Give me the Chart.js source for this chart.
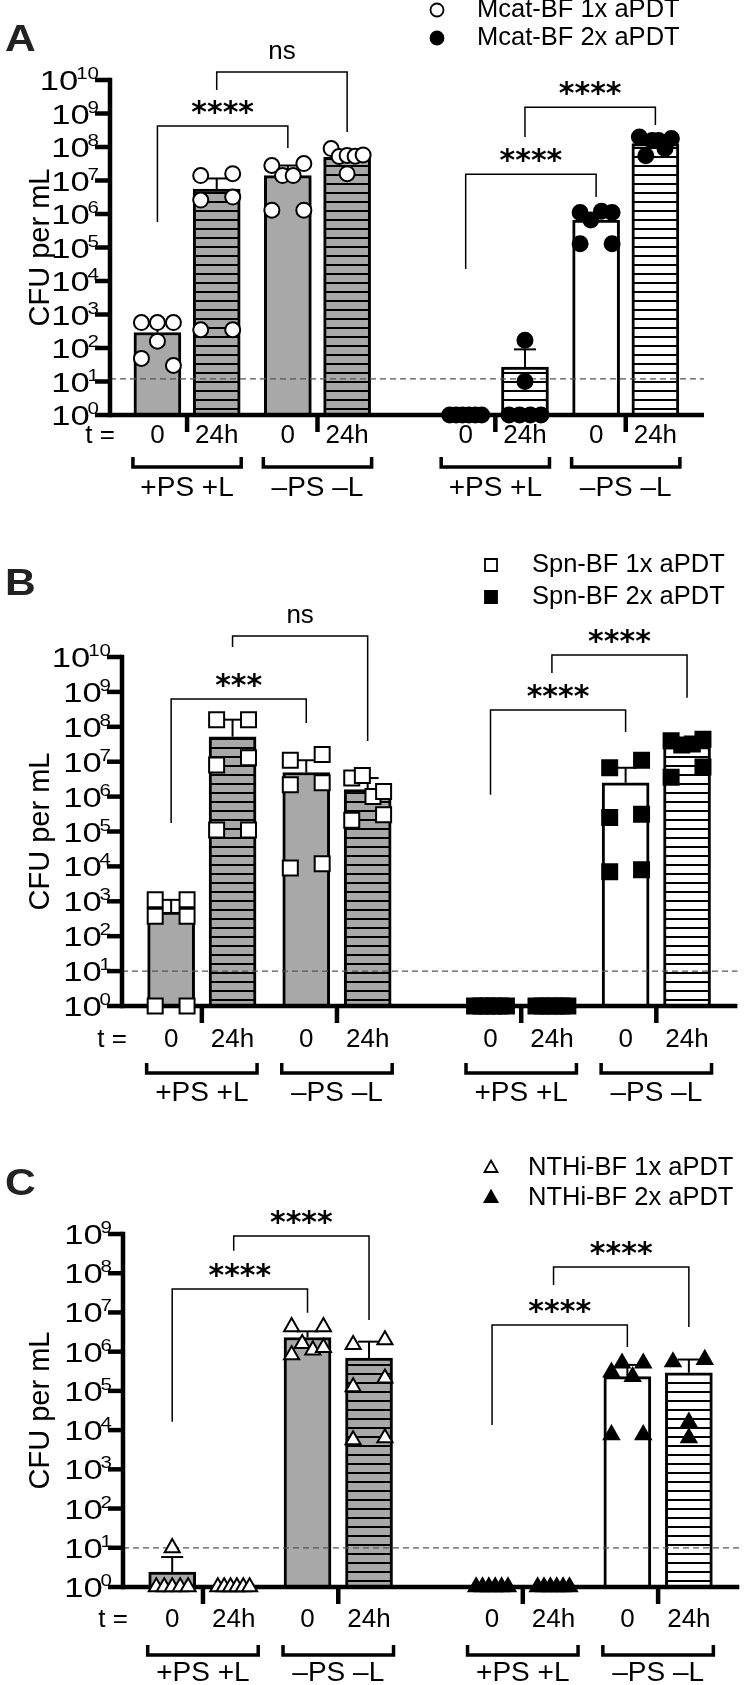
<!DOCTYPE html>
<html>
<head>
<meta charset="utf-8">
<script src="https://cdn.jsdelivr.net/npm/chart.js@4.4.0/dist/chart.umd.min.js"></script>
<style>
  body { margin: 0; background: #fff; width: 750px; height: 1685px; position: relative; overflow: hidden; }
  canvas { position: absolute; left: 0; }
</style>
</head>
<body>
<canvas id="chartA" width="750" height="520" style="top:0px"></canvas>
<canvas id="chartB" width="750" height="600" style="top:520px"></canvas>
<canvas id="chartC" width="750" height="565" style="top:1120px"></canvas>
<script>
// ---- data ----
var timeLabels = ['0', '24h', '0', '24h', '0', '24h', '0', '24h'];
var groupLabels = ['+PS +L', '\u2013PS \u2013L', '+PS +L', '\u2013PS \u2013L'];

// panel A : M. catarrhalis biofilm
var legendA = ['Mcat-BF 1x aPDT', 'Mcat-BF 2x aPDT'];
var meansA = [290, 5.5e6, 1.4e7, 4.9e7, 1, 27, 6.6e5, 1.26e8];
var errTopA = [575, 1.15e7, 2.8e7, 7.3e7, null, 91, 9.5e5, 1.6e8];
var pointsA = [
  [575, 575, 575, 160, 49, 30],
  [350, 350, 2.6e6, 3.2e6, 1.4e7, 1.6e7],
  [2.8e7, 1.4e7, 1.4e7, 3.2e7, 1.3e6, 1.3e6],
  [9e7, 5.2e7, 5.6e7, 5.3e7, 5.8e7, 1.6e7],
  [1, 1, 1, 1, 1, 1],
  [170, 10, 1, 1, 1, 1],
  [1.1e6, 6.6e5, 1.2e6, 1.1e6, 1.3e5, 1.3e5],
  [2e8, 5.5e7, 1.55e8, 1.55e8, 9e7, 1.8e8]
];
// [from bar, to bar, bracket top, left leg end, right leg end (log10 CFU), label]
var bracketsA = [
  [0, 2, 8.63, 5.76, 7.97, '****'],
  [1, 3, 10.24, 9.70, 8.45, 'ns'],
  [4, 6, 7.19, 4.36, 6.51, '****'],
  [5, 7, 9.19, 8.30, 8.66, '****']
];
var limitA = 12;

// panel B : S. pneumoniae biofilm
var legendB = ['Spn-BF 1x aPDT', 'Spn-BF 2x aPDT'];
var meansB = [490, 5.2e7, 4.9e6, 1.6e6, 1, 1, 2.5e6, 2.7e7];
var errTopB = [1.1e3, 1.6e8, 1.1e7, 3.4e6, null, null, 6.7e6, 3.8e7];
var pointsB = [
  [1.1e3, 1.1e3, 370, 370, 1, 1],
  [1.6e8, 1.6e8, 8e6, 1.3e7, 1.1e5, 1.1e5],
  [1.1e7, 1.6e7, 2.2e6, 2.5e6, 9e3, 1.2e4],
  [3.4e6, 4e6, 1e6, 1.4e6, 2.1e5, 3e5],
  [1, 1, 1, 1, 1, 1],
  [1, 1, 1, 1, 1, 1],
  [6.7e6, 1.1e7, 2.5e5, 3.1e5, 7e3, 8e3],
  [4e7, 3e7, 3.2e7, 4.4e7, 3.6e6, 7e6]
];
var bracketsB = [
  [0, 2, 8.80, 5.24, 8.11, '***'],
  [1, 3, 10.60, 10.29, 7.59, 'ns'],
  [4, 6, 8.48, 6.05, 7.85, '****'],
  [5, 7, 10.06, 9.54, 8.83, '****']
];
var limitB = 10;

// panel C : NTHi biofilm
var legendC = ['NTHi-BF 1x aPDT', 'NTHi-BF 2x aPDT'];
var meansC = [2.4, 1, 2.3e6, 6.9e5, 1, 1, 2.3e5, 2.9e5];
var errTopC = [5.8, null, 3.3e6, 1.8e6, null, null, 4.6e5, 6.3e5];
var pointsC = [
  [10, 1, 1, 1, 1, 1],
  [1, 1, 1, 1, 1, 1],
  [4.3e6, 4.3e6, 8.3e5, 1.6e6, 1.1e6, 1.26e6],
  [1.5e6, 2e6, 1.26e5, 2.1e5, 5.6e3, 6.3e3],
  [1, 1, 1, 1, 1, 1],
  [1, 1, 1, 1, 1, 1],
  [3e5, 5.1e5, 2.3e5, 5.1e5, 7.6e3, 7.6e3],
  [5.5e5, 6.3e5, 1.6e4, 6.3e3]
];
var bracketsC = [
  [0, 2, 7.60, 4.21, 6.99, '****'],
  [1, 3, 8.95, 8.57, 6.81, '****'],
  [4, 6, 6.68, 4.13, 6.12, '****'],
  [5, 7, 8.16, 7.70, 6.63, '****']
];
var limitC = 10;

// ---- layout ----
var slots = [0, 1, 2.2, 3.2, 5.2, 6.2, 7.4, 8.4];
var X_MIN = -0.8, X_MAX = 9.22;
var BAR_W = 47, MARK = 15;
var FONT = "'Liberation Sans', Arial, Helvetica, sans-serif";
var GRAY = '#a8a8a8';

var panels = [
  { id: 'chartA', letter: 'A', legend: legendA, means: meansA, errTop: errTopA, points: pointsA,
    brackets: bracketsA, limit: limitA, maxExp: 10, marker: 'circle', markR: 7.5, H: 520,
    area: { left: 110, right: 704, top: 80, bottom: 415 },
    legX: 437, legTextX: 477, legY: [10, 38], letterY: 41, labelDy: 21, brDy: 52, groupDy: 73 },
  { id: 'chartB', letter: 'B', legend: legendB, means: meansB, errTop: errTopB, points: pointsB,
    brackets: bracketsB, limit: limitB, maxExp: 10, marker: 'rect', markR: 10.6, H: 600,
    area: { left: 122, right: 740, top: 137, bottom: 486 },
    legX: 491, legTextX: 532, legY: [45, 77], letterY: 65, labelDy: 34, brDy: 67, groupDy: 87 },
  { id: 'chartC', letter: 'C', legend: legendC, means: meansC, errTop: errTopC, points: pointsC,
    brackets: bracketsC, limit: limitC, maxExp: 9, marker: 'triangle', markR: 8.7, H: 565,
    area: { left: 123, right: 743, top: 114, bottom: 467 },
    legX: 491, legTextX: 528, legY: [48, 78], letterY: 65, labelDy: 33, brDy: 68, groupDy: 86 }
];

function hatch(fill, offset) {
  var c = document.createElement('canvas');
  c.width = 8; c.height = 9;
  var g = c.getContext('2d');
  g.fillStyle = fill; g.fillRect(0, 0, 8, 9);
  g.fillStyle = '#000'; g.fillRect(0, offset, 8, 2);
  return c.getContext('2d').createPattern(c, 'repeat');
}

function line(ctx, x1, y1, x2, y2) {
  ctx.beginPath(); ctx.moveTo(x1, y1); ctx.lineTo(x2, y2); ctx.stroke();
}

// text drawn a little wider than the font, as the figure's tick labels are
function wideText(ctx, txt, x, y, sx) {
  ctx.save();
  ctx.translate(x, y); ctx.scale(sx, 1);
  ctx.fillText(txt, 0, 0);
  ctx.restore();
}

// spread points of similar height side by side across the bar (scatter-dot style)
function swarm(values, yPx) {
  var idx = values.map(function (v, i) { return i; });
  idx.sort(function (a, b) { return yPx(values[a]) - yPx(values[b]); });
  var clusters = [], cur = [];
  idx.forEach(function (i, k) {
    if (k > 0 && yPx(values[i]) - yPx(values[idx[k - 1]]) > MARK) { clusters.push(cur); cur = []; }
    cur.push(i);
  });
  clusters.push(cur);
  var offs = [];
  clusters.forEach(function (c) {
    c.sort(function (a, b) { return a - b; });
    var n = c.length, step = n > 1 ? (BAR_W - MARK) / (n - 1) : 0;
    c.forEach(function (i, k) { offs[i] = (k - (n - 1) / 2) * step; });
  });
  return offs;
}

function legendMark(ctx, style, x, y, filled) {
  ctx.save();
  ctx.fillStyle = filled ? '#000' : '#fff';
  ctx.strokeStyle = '#000'; ctx.lineWidth = 1.8;
  ctx.beginPath();
  if (style === 'circle') ctx.arc(x, y, 6.5, 0, Math.PI * 2);
  else if (style === 'rect') ctx.rect(x - 6, y - 6, 12, 12);
  else { ctx.moveTo(x, y - 7.5); ctx.lineTo(x + 6.5, y + 4); ctx.lineTo(x - 6.5, y + 4); ctx.closePath(); }
  ctx.fill(); ctx.stroke();
  ctx.restore();
}

function makeDecor(p) {
  return {
    id: 'decor' + p.letter,
    afterDatasetDraw: function (chart, args) {
      if (args.meta.type !== 'bar') return;
      var ctx = chart.ctx, xs = chart.scales.x, ys = chart.scales.y, a = chart.chartArea;
      ctx.save();
      // detection limit
      ctx.strokeStyle = '#555'; ctx.lineWidth = 1.3; ctx.setLineDash([6, 4]);
      var yl = ys.getPixelForValue(p.limit);
      line(ctx, a.left, yl, a.right, yl);
      ctx.setLineDash([]);
      // error bars (mean + SEM)
      ctx.strokeStyle = '#000'; ctx.lineWidth = 2;
      p.means.forEach(function (m, i) {
        if (p.errTop[i] == null) return;
        var x = xs.getPixelForValue(slots[i]);
        var y1 = ys.getPixelForValue(m), y2 = ys.getPixelForValue(p.errTop[i]);
        line(ctx, x, y1, x, y2);
        line(ctx, x - 11, y2, x + 11, y2);
      });
      // axes
      ctx.lineWidth = 4.5;
      var yTop = ys.getPixelForValue(Math.pow(10, p.maxExp));
      line(ctx, a.left, yTop - 2.25, a.left, a.bottom + 2.25);
      line(ctx, a.left, a.bottom, a.right, a.bottom);
      for (var e = 0; e <= p.maxExp; e++) {
        var yt = ys.getPixelForValue(Math.pow(10, e));
        line(ctx, a.left - 15, yt, a.left, yt);
      }
      for (var k = 0; k < 8; k += 2) {
        var xm = xs.getPixelForValue((slots[k] + slots[k + 1]) / 2);
        line(ctx, xm, a.bottom, xm, a.bottom + 17);
      }
      ctx.restore();
    },
    afterDraw: function (chart) {
      var ctx = chart.ctx, xs = chart.scales.x, ys = chart.scales.y, a = chart.chartArea;
      var SX = 1.28;
      ctx.save();
      ctx.fillStyle = '#000'; ctx.strokeStyle = '#000';

      // y tick labels 10^n
      ctx.textAlign = 'left'; ctx.textBaseline = 'alphabetic';
      for (var e = 0; e <= p.maxExp; e++) {
        var yt = ys.getPixelForValue(Math.pow(10, e));
        var sup = String(e);
        ctx.font = '16px ' + FONT;
        var ws = ctx.measureText(sup).width * SX;
        ctx.font = '27px ' + FONT;
        var wm = ctx.measureText('10').width * SX;
        var xEnd = a.left - 11;
        wideText(ctx, '10', xEnd - ws - wm + 2, yt + 10, SX);
        ctx.font = '16px ' + FONT;
        wideText(ctx, sup, xEnd - ws, yt - 1, SX);
      }

      // y title
      ctx.save();
      ctx.translate(41, (a.top + a.bottom) / 2);
      ctx.rotate(-Math.PI / 2);
      ctx.font = '29px ' + FONT; ctx.textAlign = 'center'; ctx.textBaseline = 'middle';
      ctx.fillText('CFU per mL', 0, 0);
      ctx.restore();

      // x labels
      ctx.font = '26px ' + FONT; ctx.textBaseline = 'middle';
      ctx.textAlign = 'right';
      ctx.fillText('t =', a.left + 5, a.bottom + p.labelDy);
      ctx.textAlign = 'center';
      timeLabels.forEach(function (t, i) {
        ctx.fillText(t, xs.getPixelForValue(slots[i]), a.bottom + p.labelDy);
      });

      // group brackets
      ctx.lineWidth = 3.5;
      groupLabels.forEach(function (g, k) {
        var x1 = xs.getPixelForValue(slots[2 * k]) - BAR_W / 2 - 1;
        var x2 = xs.getPixelForValue(slots[2 * k + 1]) + BAR_W / 2 + 1;
        var yb = a.bottom + p.brDy;
        ctx.beginPath();
        ctx.moveTo(x1, yb - 10); ctx.lineTo(x1, yb); ctx.lineTo(x2, yb); ctx.lineTo(x2, yb - 10);
        ctx.stroke();
        ctx.font = '28px ' + FONT;
        ctx.fillText(g, (x1 + x2) / 2, a.bottom + p.groupDy);
      });

      // significance brackets
      ctx.lineWidth = 1.5;
      p.brackets.forEach(function (b) {
        var xa = xs.getPixelForValue(slots[b[0]]), xb = xs.getPixelForValue(slots[b[1]]);
        var yt = ys.getPixelForValue(Math.pow(10, b[2]));
        var ya = ys.getPixelForValue(Math.pow(10, b[3]));
        var yb = ys.getPixelForValue(Math.pow(10, b[4]));
        ctx.beginPath();
        ctx.moveTo(xa, ya); ctx.lineTo(xa, yt); ctx.lineTo(xb, yt); ctx.lineTo(xb, yb);
        ctx.stroke();
        ctx.textAlign = 'center'; ctx.textBaseline = 'alphabetic';
        if (b[5] === 'ns') {
          ctx.font = '26px ' + FONT;
          ctx.fillText('ns', (xa + xb) / 2, yt - 20 + 7);
        } else {
          ctx.font = "bold 30px 'DejaVu Sans', sans-serif";
          ctx.fillText(b[5], (xa + xb) / 2, yt - 20 + 16);
        }
      });

      // legend
      ctx.font = '25.5px ' + FONT; ctx.textAlign = 'left'; ctx.textBaseline = 'middle';
      p.legend.forEach(function (txt, k) {
        legendMark(ctx, p.marker, p.legX, p.legY[k], k === 1);
        ctx.fillStyle = '#000';
        ctx.fillText(txt, p.legTextX, p.legY[k]);
      });

      // panel letter
      ctx.font = 'bold 37px ' + FONT; ctx.fillStyle = '#222';
      ctx.textAlign = 'left'; ctx.textBaseline = 'middle';
      wideText(ctx, p.letter, 5, p.letterY, 1.15);
      ctx.restore();
    }
  };
}

panels.forEach(function (p) {
  var a = p.area;
  var unit = (a.right - a.left) / (X_MAX - X_MIN);
  var decade = (a.bottom - a.top) / p.maxExp;
  var yPx = function (v) { return a.bottom - decade * Math.log10(v); };
  var off = ((a.bottom - 7) % 9 + 9) % 9;
  var fills = [GRAY, hatch(GRAY, off), GRAY, hatch(GRAY, off), '#fff', hatch('#fff', off), '#fff', hatch('#fff', off)];

  var open = [], filled = [];
  p.points.forEach(function (vals, i) {
    var offs = swarm(vals, yPx);
    vals.forEach(function (v, j) {
      var pt = { x: slots[i] + offs[j] / unit, y: v };
      if (i < 4) open.push(pt); else filled.push(pt);
    });
  });

  var pointSet = function (fillColor, data) {
    return {
      type: 'scatter', data: data, order: 1, clip: false, showLine: false,
      pointStyle: p.marker, pointRadius: p.markR, pointHoverRadius: p.markR,
      pointBackgroundColor: fillColor, pointBorderColor: '#000', pointBorderWidth: 2
    };
  };

  new Chart(document.getElementById(p.id), {
    type: 'bar',
    data: {
      datasets: [
        {
          type: 'bar', order: 2, clip: false,
          data: p.means.map(function (m, i) { return { x: slots[i], y: m }; }),
          backgroundColor: fills, borderColor: '#000', borderWidth: 3,
          barThickness: BAR_W
        },
        pointSet('#fff', open),
        pointSet('#000', filled)
      ]
    },
    options: {
      responsive: false, animation: false, devicePixelRatio: 1,
      layout: { padding: { left: a.left, right: 750 - a.right, top: a.top, bottom: p.H - a.bottom } },
      plugins: { legend: { display: false }, tooltip: { enabled: false } },
      scales: {
        x: { type: 'linear', min: X_MIN, max: X_MAX, offset: false, display: false },
        y: { type: 'logarithmic', min: 1, max: Math.pow(10, p.maxExp), display: false }
      }
    },
    plugins: [makeDecor(p)]
  });
});
</script>
</body>
</html>
